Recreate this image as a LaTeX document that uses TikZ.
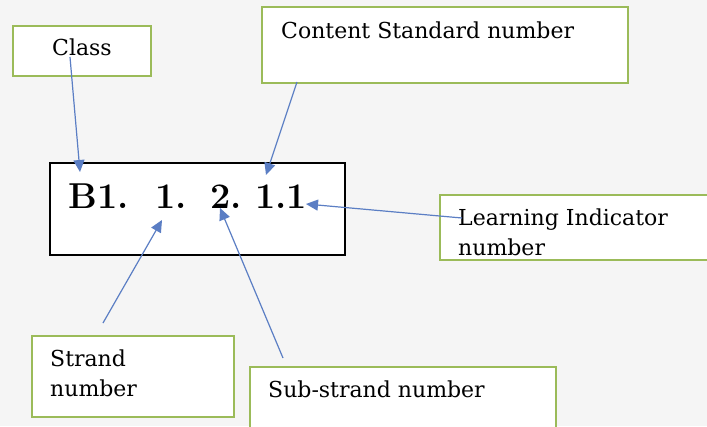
\documentclass[tikz,border=0pt]{standalone}
\usepackage{fontspec}
\setmainfont{DejaVu Serif}
\newfontfamily\codefont{Latin Modern Roman}
\usetikzlibrary{arrows.meta}
\definecolor{pagebg}{HTML}{F5F5F5}
\definecolor{boxgreen}{HTML}{9BBB59}
\definecolor{arrowblue}{HTML}{5B7EC4}
\tikzset{
  gbox/.style={draw=boxgreen, line width=1.2pt, fill=white, rectangle, inner sep=0pt},
  mainbox/.style={draw=black, line width=1.3pt, fill=white, rectangle, inner sep=0pt},
  lbl/.style={inner sep=0pt, font=\fontsize{22}{30}\selectfont, anchor=base west, align=left},
  conn/.style={draw=arrowblue, line width=1.2pt, -{Triangle[length=12pt,width=11pt]}},
}
\begin{document}
\begin{tikzpicture}[x=1pt, y=-1pt]
  % page
  \fill[pagebg] (0,0) rectangle (707,426);
  \useasboundingbox (0,0) rectangle (707,426);

  % label boxes
  \node[gbox, minimum width=138pt, minimum height=50pt] (classbox) at (82,51) {};
  \node[gbox, minimum width=366pt, minimum height=76pt] (csbox) at (445,45) {};
  \node[gbox, minimum width=280pt, minimum height=65pt] (libox) at (580,227.5) {};
  \node[gbox, minimum width=202pt, minimum height=81pt] (strandbox) at (133,376.5) {};
  \node[gbox, minimum width=306pt, minimum height=80pt] (subbox) at (403,407) {};

  % code box
  \node[mainbox, minimum width=295pt, minimum height=92pt] (codebox) at (197.5,209) {};
  \node[inner sep=0pt, anchor=base west, font=\codefont\bfseries\fontsize{36}{36}\selectfont] (code) at (68,208)
    {\rlap{B1.}\hspace{87pt}\rlap{1.}\hspace{55pt}\rlap{2.}\hspace{45pt}1.1};

  % label texts (base = baseline of the last line)
  \node[lbl] (classtxt) at (52,55) {Class};
  \node[lbl] (cstxt) at (281,38) {Content Standard number};
  \node[lbl] (litxt) at (458,255) {Learning Indicator\\number};
  \node[lbl] (strandtxt) at (50,396) {Strand\\number};
  \node[lbl] (subtxt) at (268,397) {Sub-strand number};

  % connector ends
  \coordinate (c1s) at (70,57);   \coordinate (c1e) at (80,172);
  \coordinate (c2s) at (297,82);  \coordinate (c2e) at (266,175);
  \coordinate (c3s) at (462,218); \coordinate (c3e) at (306,204);
  \coordinate (c4s) at (103,323); \coordinate (c4e) at (162,220);
  \coordinate (c5s) at (283,358); \coordinate (c5e) at (220,208);

  \draw[conn] (c1s) -- (c1e);
  \draw[conn] (c2s) -- (c2e);
  \draw[conn] (c3s) -- (c3e);
  \draw[conn] (c4s) -- (c4e);
  \draw[conn] (c5s) -- (c5e);
\end{tikzpicture}
\end{document}
